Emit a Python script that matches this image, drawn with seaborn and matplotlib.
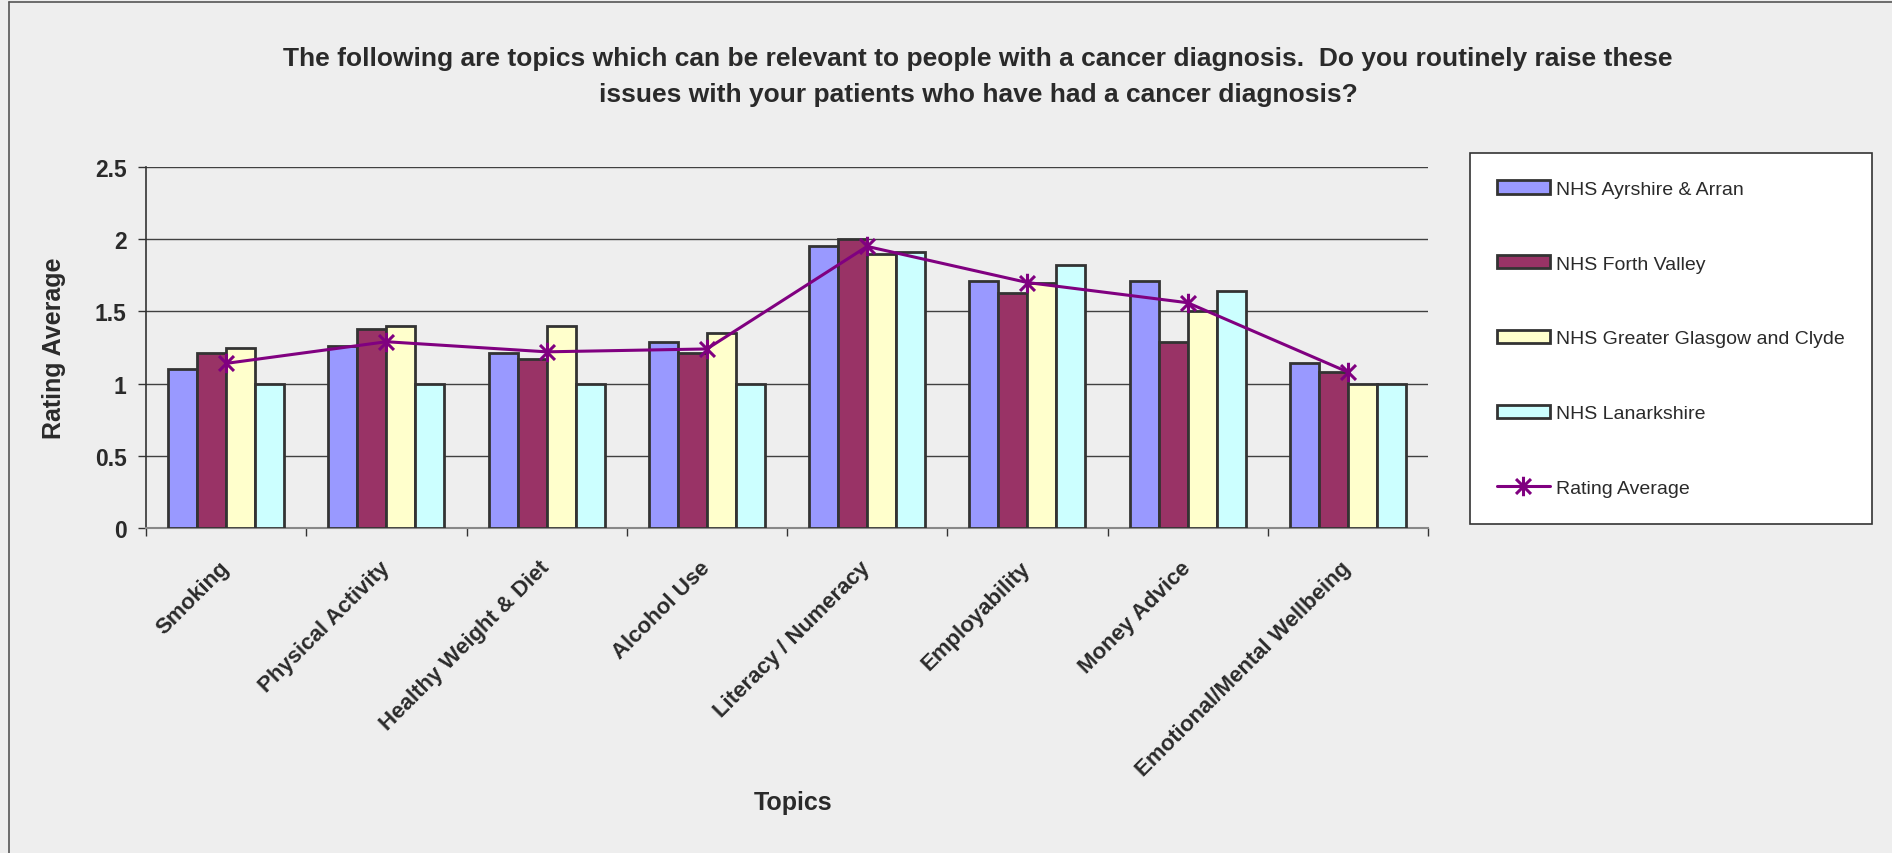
import numpy as np
import pandas as pd
import matplotlib
matplotlib.use('Agg')
import matplotlib.pyplot as plt
from matplotlib.path import Path
from matplotlib.lines import Line2D
import seaborn as sns

# Dati
topics = ['Smoking', 'Physical Activity', 'Healthy Weight & Diet', 'Alcohol Use',
          'Literacy / Numeracy', 'Employability', 'Money Advice',
          'Emotional/Mental Wellbeing']
boards = ['NHS Ayrshire & Arran', 'NHS Forth Valley',
          'NHS Greater Glasgow and Clyde', 'NHS Lanarkshire']
ayrshire = [1.10, 1.26, 1.21, 1.29, 1.95, 1.71, 1.71, 1.14]
forth_valley = [1.21, 1.38, 1.17, 1.21, 2.00, 1.63, 1.29, 1.08]
glasgow = [1.25, 1.40, 1.40, 1.35, 1.90, 1.70, 1.50, 1.00]
lanarkshire = [1.00, 1.00, 1.00, 1.00, 1.91, 1.82, 1.64, 1.00]
rating_avg = [1.14, 1.29, 1.22, 1.24, 1.95, 1.70, 1.56, 1.08]
yticks = [0, 0.5, 1, 1.5, 2, 2.5]
ytick_labels = ['0', '0.5', '1', '1.5', '2', '2.5']

colors = ['#9999FF', '#993366', '#FFFFCC', '#CCFFFF']
bg = '#EEEEEE'
txt = '#2A2A2A'

df = pd.DataFrame({
    'Topic': np.tile(topics, 4),
    'Board': np.repeat(boards, len(topics)),
    'Value': ayrshire + forth_valley + glasgow + lanarkshire,
})

sns.set_style('white', {'axes.facecolor': bg, 'figure.facecolor': bg})
plt.rcParams['font.family'] = ['Liberation Sans', 'DejaVu Sans']

fig = plt.figure(figsize=(18.92, 8.54), dpi=100)
ax = fig.add_axes([146/1892, 1-529/854, (1428-146)/1892, (529-168)/854])

sns.barplot(data=df, x='Topic', y='Value', hue='Board', order=topics,
            hue_order=boards, palette=colors, width=0.725, gap=0,
            edgecolor='#333333', linewidth=2.0, saturation=1, ax=ax, zorder=3)

# marcatore "stella" stile Excel: X + linea verticale
star = Path([(-1, -1), (1, 1), (-1, 1), (1, -1), (0, -1.3), (0, 1.3)],
            [Path.MOVETO, Path.LINETO, Path.MOVETO, Path.LINETO,
             Path.MOVETO, Path.LINETO])
ax.plot(np.arange(len(topics)), rating_avg, color='#800080', lw=2.2,
        marker=star, markersize=14, markeredgewidth=2.2, zorder=5,
        label='Rating Average')

ax.set_ylim(0, 2.5)
ax.set_xlim(-0.5, len(topics) - 0.5)
ax.set_yticks(yticks)
ax.set_yticklabels(ytick_labels, fontsize=16.5, fontweight='bold', color=txt)
ax.yaxis.grid(True, color='#404040', lw=1.0, zorder=0)
ax.set_axisbelow(True)

ax.set_xticks(np.arange(len(topics)))
ax.set_xticklabels(topics, rotation=45, ha='right', va='center',
                   rotation_mode='anchor', fontsize=16, fontweight='bold',
                   color=txt)
ax.set_xticks(np.arange(len(topics) + 1) - 0.5, minor=True)
ax.tick_params(axis='x', which='major', length=0, pad=26)
ax.tick_params(axis='x', which='minor', length=6, width=1, color='#333333',
               direction='out', bottom=True)
ax.tick_params(axis='y', length=6, width=1, color='#333333', direction='out',
               left=True, pad=8)

for s in ['top', 'right']:
    ax.spines[s].set_visible(False)
ax.spines['left'].set_color('#333333')
ax.spines['left'].set_linewidth(1.2)
ax.spines['bottom'].set_color('#888888')
ax.spines['bottom'].set_linewidth(1.5)

ax.set_ylabel('Rating Average', fontsize=18, fontweight='bold', color=txt)
ax.yaxis.set_label_coords(-0.0624, 0.5)
ax.set_xlabel('Topics', fontsize=18, fontweight='bold', color=txt)
ax.xaxis.set_label_coords(0.505, -0.725)

fig.text(978/1892, 1-77/854,
         'The following are topics which can be relevant to people with a cancer diagnosis.  Do you routinely raise these\n'
         'issues with your patients who have had a cancer diagnosis?',
         ha='center', va='center', fontsize=19, fontweight='bold', color=txt,
         linespacing=1.68)

# legenda
handles, labels = ax.get_legend_handles_labels()
ax.legend_.remove() if ax.legend_ else None
leg = fig.legend(handles, labels, loc='upper left',
                 bbox_to_anchor=(1470/1892, 1-154/854), fontsize=14,
                 frameon=True, fancybox=False, framealpha=1, borderaxespad=0,
                 borderpad=1.4, handlelength=2.7, handleheight=0.68,
                 handletextpad=0.3, labelspacing=2.95, labelcolor=txt)
leg.get_frame().set_facecolor('white')
leg.get_frame().set_edgecolor('#333333')
leg.get_frame().set_linewidth(1.2)

# bordo della figura
fig.add_artist(Line2D([9/1892, 9/1892], [0, 1-3/854], color='#555555', lw=1.2))
fig.add_artist(Line2D([9/1892, 1], [1-3/854, 1-3/854], color='#555555', lw=1.2))

fig.savefig('out.png', dpi=100, facecolor=bg)
